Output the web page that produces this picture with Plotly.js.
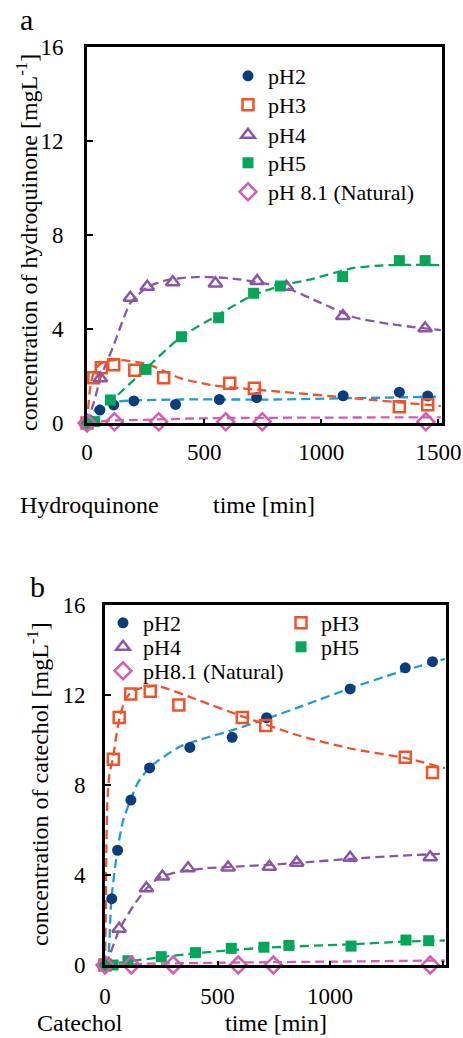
<!DOCTYPE html>
<html>
<head>
<meta charset="utf-8">
<script src="https://cdn.plot.ly/plotly-3.0.1.min.js"></script>
<style>html,body{margin:0;padding:0;background:#fff;}#chart{width:463px;height:1038px;}</style>
</head>
<body>
<div id="chart"></div>
<script>
// ---------- Panel a: Hydroquinone (measured points) ----------
const hqTimePH2 = [0, 55, 114, 200, 378, 565, 724, 1093, 1333, 1454];
const hqPH2     = [0, 0.55, 0.77, 0.94, 0.79, 1.00, 1.08, 1.16, 1.31, 1.15];
const hqTimePH3 = [0, 29, 61, 114, 204, 327, 609, 714, 1333, 1454];
const hqPH3     = [0, 1.93, 2.35, 2.48, 2.25, 1.93, 1.69, 1.48, 0.69, 0.78];
const hqTimePH4 = [0, 57, 185, 257, 366, 548, 726, 851, 1092, 1443];
const hqPH4     = [0, 1.90, 5.33, 5.80, 5.99, 5.94, 6.04, 5.80, 4.55, 4.03];
const hqTimePH5 = [0, 33, 100, 252, 403, 562, 711, 825, 1091, 1333, 1443];
const hqPH5     = [0, 0.06, 0.98, 2.28, 3.67, 4.48, 5.52, 5.83, 6.23, 6.91, 6.91];
const hqTimePH8 = [0, 117, 306, 592, 748, 1446];
const hqPH8     = [0, 0.05, 0.05, 0.05, 0.05, 0.05];

// Panel a: fitted (dashed) curves
const hqFitTimePH2 = [0, 25, 50, 100, 200, 400, 800, 1100, 1510];
const hqFitPH2     = [0, 0.45, 0.72, 0.88, 0.96, 1.00, 1.00, 1.05, 1.12];
const hqFitTimePH3 = [0, 15, 35, 70, 140, 260, 400, 540, 825, 1110, 1510];
const hqFitPH3     = [0, 1.6, 2.3, 2.6, 2.68, 2.5, 1.9, 1.6, 1.33, 1.08, 0.72];
const hqFitTimePH4 = [0, 30, 60, 110, 185, 260, 350, 480, 620, 750, 850, 1000, 1140, 1300, 1510];
const hqFitPH4     = [0, 0.9, 2.0, 3.2, 5.1, 5.8, 6.1, 6.22, 6.15, 5.95, 5.75, 5.1, 4.5, 4.2, 3.95];
const hqFitTimePH5 = [0, 100, 250, 400, 560, 700, 830, 950, 1140, 1300, 1510];
const hqFitPH5     = [0, 0.9, 2.3, 3.65, 4.6, 5.4, 5.85, 6.1, 6.6, 6.72, 6.72];
const hqFitTimePH8 = [0, 100, 214, 500, 1000, 1510];
const hqFitPH8     = [0, 0.10, 0.13, 0.20, 0.23, 0.24];

// ---------- Panel b: Catechol (measured points) ----------
const ctTimePH2 = [0, 30, 56, 115, 198, 377, 565, 718, 1089, 1334, 1455];
const ctPH2     = [0, 2.95, 5.10, 7.33, 8.76, 9.67, 10.12, 10.99, 12.27, 13.21, 13.48];
const ctTimePH3 = [0, 37, 63, 114, 201, 328, 610, 714, 1334, 1455];
const ctPH3     = [0, 9.15, 11.0, 12.05, 12.17, 11.56, 11.0, 10.64, 9.23, 8.56];
const ctTimePH4 = [0, 63, 184, 255, 369, 547, 730, 852, 1089, 1445];
const ctPH4     = [0, 1.61, 3.41, 3.93, 4.30, 4.33, 4.37, 4.55, 4.77, 4.79];
const ctTimePH5 = [0, 36, 102, 250, 402, 561, 706, 817, 1093, 1337, 1438];
const ctPH5     = [0, 0, 0.19, 0.37, 0.55, 0.74, 0.79, 0.87, 0.84, 1.11, 1.08];
const ctTimePH8 = [0, 117, 303, 592, 748, 1445];
const ctPH8     = [0, 0, 0, 0, 0, 0];

// Panel b: fitted (dashed) curves
const ctFitTimePH2 = [0, 13, 28, 55, 80, 114, 146, 200, 331, 450, 570, 720, 900, 1090, 1300, 1510];
const ctFitPH2     = [0, 0.25, 2.9, 5.1, 6.4, 7.35, 8.1, 8.8, 9.7, 10.1, 10.45, 10.95, 11.6, 12.3, 13.0, 13.6];
const ctFitTimePH3 = [0, 3, 6, 10, 20, 36, 50, 65, 90, 125, 230, 420, 610, 860, 1100, 1334, 1510];
const ctFitPH3     = [0, 2.0, 5.0, 7.2, 8.5, 9.2, 10.2, 11.0, 11.8, 12.2, 12.4, 11.75, 11.05, 10.2, 9.6, 9.2, 8.75];
const ctFitTimePH4 = [0, 21, 65, 124, 184, 243, 331, 450, 600, 730, 900, 1090, 1300, 1510];
const ctFitPH4     = [0, 0.45, 1.6, 2.6, 3.4, 3.9, 4.15, 4.3, 4.38, 4.45, 4.57, 4.72, 4.85, 4.95];
const ctFitTimePH5 = [0, 100, 250, 400, 560, 700, 830, 1090, 1330, 1510];
const ctFitPH5     = [0, 0.15, 0.35, 0.52, 0.66, 0.76, 0.82, 0.92, 1.04, 1.09];
const ctFitTimePH8 = [0, 150, 500, 1000, 1510];
const ctFitPH8     = [0, 0.05, 0.10, 0.15, 0.20];

// ---------- labels ----------
const seriesNamesA = ['pH2', 'pH3', 'pH4', 'pH5', 'pH 8.1 (Natural)'];
const seriesNamesB = ['pH2', 'pH3', 'pH4', 'pH5', 'pH8.1 (Natural)'];
const xTicks = [0, 500, 1000, 1500];
const yTicks = [0, 4, 8, 12, 16];
const yTitleA = 'concentration of hydroquinone [mgL<sup>-1</sup>]';
const yTitleB = 'concentration of catechol [mgL<sup>-1</sup>]';
const xTitle = 'time [min]';
const compoundA = 'Hydroquinone';
const compoundB = 'Catechol';

// ---------- styles ----------
const W = 463, H = 1038;
const FONT = "'Liberation Serif', 'Times New Roman', 'DejaVu Serif', serif";
const colPH2m = '#0b3d7c', colPH2l = '#1e9bd8';
const colPH3 = '#f0532a', colPH4 = '#8a56a9', colPH5 = '#06a65a', colPH8 = '#d25db4';
const styles = [
  {sym: 'circle', size: 11, color: colPH2m, line: colPH2l, open: false},
  {sym: 'square-open', size: 11, color: colPH3, line: colPH3, open: true},
  {sym: 'triangle-up-open', size: 12, color: colPH4, line: colPH4, open: true},
  {sym: 'square', size: 11, color: colPH5, line: colPH5, open: false},
  {sym: 'diamond-open', size: 13, color: colPH8, line: colPH8, open: true}
];

const px2x = p => p / W;
const py2y = p => 1 - p / H;

const dataA = [[hqTimePH2, hqPH2], [hqTimePH3, hqPH3], [hqTimePH4, hqPH4], [hqTimePH5, hqPH5], [hqTimePH8, hqPH8]];
const fitA  = [[hqFitTimePH2, hqFitPH2], [hqFitTimePH3, hqFitPH3], [hqFitTimePH4, hqFitPH4], [hqFitTimePH5, hqFitPH5], [hqFitTimePH8, hqFitPH8]];
const dataB = [[ctTimePH2, ctPH2], [ctTimePH3, ctPH3], [ctTimePH4, ctPH4], [ctTimePH5, ctPH5], [ctTimePH8, ctPH8]];
const fitB  = [[ctFitTimePH2, ctFitPH2], [ctFitTimePH3, ctFitPH3], [ctFitTimePH4, ctFitPH4], [ctFitTimePH5, ctFitPH5], [ctFitTimePH8, ctFitPH8]];

const traces = [];
function addPanel(fits, pts, names, xa, ya, legendIds) {
  fits.forEach((f, i) => {
    traces.push({x: f[0], y: f[1], xaxis: xa, yaxis: ya, mode: 'lines', type: 'scatter',
      line: {color: styles[i].line, width: 2.3, dash: '9px,5px', shape: 'spline', smoothing: 0.6},
      showlegend: false, hoverinfo: 'skip', cliponaxis: false});
  });
  pts.forEach((p, i) => {
    const s = styles[i];
    traces.push({x: p[0], y: p[1], xaxis: xa, yaxis: ya, mode: 'markers', type: 'scatter', name: names[i],
      legend: legendIds[i], showlegend: true, cliponaxis: false,
      marker: {symbol: s.sym, size: s.size, color: s.color,
        line: {color: s.color, width: s.open ? 2.5 : 0}}});
  });
}
addPanel(fitA, dataA, seriesNamesA, 'x', 'y', ['legend', 'legend2', 'legend3', 'legend4', 'legend5']);
addPanel(fitB, dataB, seriesNamesB, 'x2', 'y2', ['legend6', 'legend7', 'legend8', 'legend9', 'legend10']);

function legendAt(mx, my) {
  return {x: px2x(mx - 26), y: py2y(my), xanchor: 'left', yanchor: 'middle',
    bgcolor: 'rgba(0,0,0,0)', borderwidth: 0, itemwidth: 30,
    font: {family: FONT, size: 22, color: '#000'}};
}

const axisCommon = {
  showgrid: false, zeroline: false, showline: true, linecolor: '#000', linewidth: 3, mirror: true,
  ticks: 'inside', tickcolor: '#000', tickwidth: 2,
  tickfont: {family: FONT, size: 23, color: '#000'}
};

const layout = {
  width: W, height: H,
  margin: {l: 0, r: 0, t: 0, b: 0},
  paper_bgcolor: '#fff', plot_bgcolor: '#fff',
  font: {family: FONT, color: '#000'},
  showlegend: true,
  xaxis: Object.assign({}, axisCommon, {domain: [px2x(87), px2x(442)], range: [0, 1515], tickvals: xTicks, ticklen: 4, anchor: 'y', ticklabelstandoff: 6}),
  yaxis: Object.assign({}, axisCommon, {domain: [py2y(423), py2y(47)], range: [0, 16], tickvals: yTicks, ticklen: 6, anchor: 'x', ticklabelstandoff: 16}),
  xaxis2: Object.assign({}, axisCommon, {domain: [px2x(105), px2x(446)], range: [0, 1515], tickvals: xTicks, ticklen: 4, anchor: 'y2', ticklabelstandoff: 8}),
  yaxis2: Object.assign({}, axisCommon, {domain: [py2y(965), py2y(605)], range: [0, 16], tickvals: yTicks, ticklen: 6, anchor: 'x2', ticklabelstandoff: 12}),
  legend: legendAt(254, 76),
  legend2: legendAt(254, 105),
  legend3: legendAt(254, 135),
  legend4: legendAt(254, 163),
  legend5: legendAt(254, 192),
  legend6: legendAt(129, 623),
  legend7: legendAt(307, 623),
  legend8: legendAt(129, 647),
  legend9: legendAt(307, 647),
  legend10: legendAt(129, 671),
  annotations: [
    {text: 'a', xref: 'paper', yref: 'paper', x: px2x(26), y: py2y(19), xanchor: 'center', yanchor: 'middle', showarrow: false, font: {family: FONT, size: 30, color: '#000'}},
    {text: 'b', xref: 'paper', yref: 'paper', x: px2x(37), y: py2y(586), xanchor: 'center', yanchor: 'middle', showarrow: false, font: {family: FONT, size: 30, color: '#000'}},
    {text: yTitleA, xref: 'paper', yref: 'paper', x: px2x(27), y: py2y(243), xanchor: 'center', yanchor: 'middle', textangle: -90, showarrow: false, font: {family: FONT, size: 24, color: '#000'}},
    {text: yTitleB, xref: 'paper', yref: 'paper', x: px2x(38), y: py2y(784), xanchor: 'center', yanchor: 'middle', textangle: -90, showarrow: false, font: {family: FONT, size: 24, color: '#000'}},
    {text: compoundA, xref: 'paper', yref: 'paper', x: px2x(18), y: py2y(505), xanchor: 'left', yanchor: 'middle', showarrow: false, font: {family: FONT, size: 24, color: '#000'}},
    {text: xTitle, xref: 'paper', yref: 'paper', x: px2x(211), y: py2y(505), xanchor: 'left', yanchor: 'middle', showarrow: false, font: {family: FONT, size: 24, color: '#000'}},
    {text: compoundB, xref: 'paper', yref: 'paper', x: px2x(35), y: py2y(1023), xanchor: 'left', yanchor: 'middle', showarrow: false, font: {family: FONT, size: 24, color: '#000'}},
    {text: xTitle, xref: 'paper', yref: 'paper', x: px2x(223), y: py2y(1023), xanchor: 'left', yanchor: 'middle', showarrow: false, font: {family: FONT, size: 24, color: '#000'}}
  ]
};

Plotly.newPlot('chart', traces, layout, {displayModeBar: false, staticPlot: true});
</script>
</body>
</html>
